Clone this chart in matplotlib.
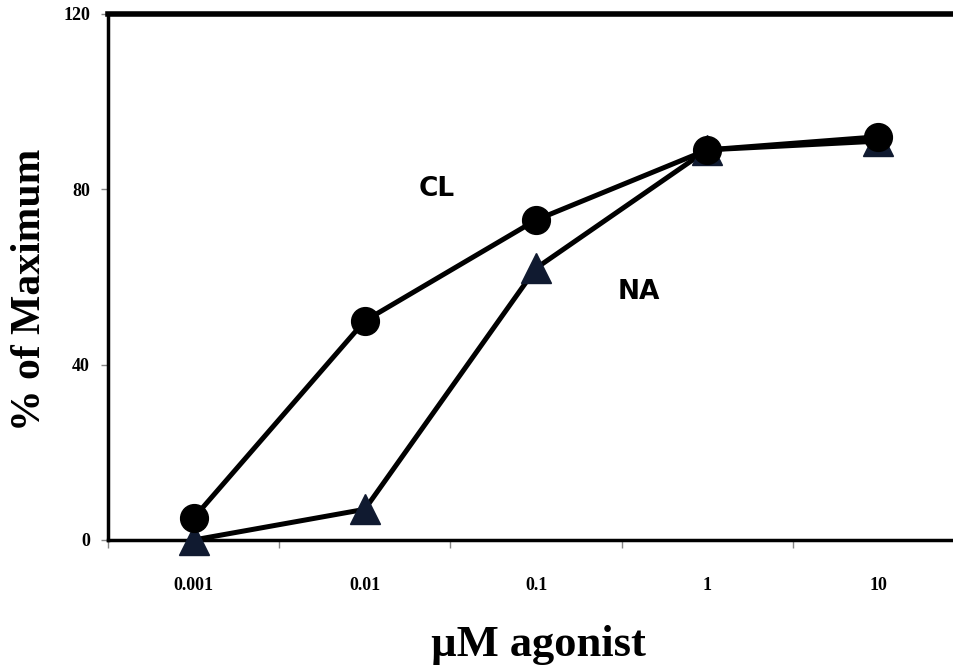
import matplotlib
matplotlib.use('Agg')
import matplotlib.pyplot as plt
import numpy as np

concs = ['0.001', '0.01', '0.1', '1', '10']
cl_values = [5, 50, 73, 89, 92]
na_values = [0, 7, 62, 89, 91]
y_ticks = [0, 40, 80, 120]

fig = plt.figure(figsize=(9.54, 6.70), dpi=100)
ax = fig.add_axes([108 / 954, 1 - 540 / 670, (964 - 108) / 954, 526 / 670])

x = np.arange(len(concs))
ax.plot(x, na_values, color='black', lw=3.6, marker='^', ms=21,
        mfc='#101a30', mec='#101a30', clip_on=False, zorder=3)
ax.plot(x, cl_values, color='black', lw=3.6, marker='o', ms=20,
        mfc='black', mec='black', clip_on=False, zorder=4)

ax.set_xlim(-0.5, 4.5)
ax.set_ylim(0, 120)
ax.set_yticks(y_ticks)
ax.set_xticks(x)
ax.set_xticklabels(concs)
ax.set_xticks(np.arange(-0.5, 4.6, 1), minor=True)
ax.tick_params(axis='x', which='major', length=0, pad=27)
ax.tick_params(axis='x', which='minor', length=6, width=1, color='#888888')
ax.tick_params(axis='y', length=5, width=1, color='#888888', pad=8)
for lab in ax.get_xticklabels() + ax.get_yticklabels():
    lab.set_fontfamily('Liberation Serif')
    lab.set_fontweight('heavy')
    lab.set_fontsize(13)
    lab.set_stretch('condensed')

ax.spines['right'].set_visible(False)
ax.spines['top'].set_linewidth(4)
ax.spines['left'].set_linewidth(2.5)
ax.spines['bottom'].set_linewidth(2.5)

ax.text(1.42, 80, 'CL', fontsize=19, fontweight='bold', family='DejaVu Sans',
        ha='center', va='center')
ax.text(2.6, 56.5, 'NA', fontsize=19, fontweight='bold', family='DejaVu Sans',
        ha='center', va='center')

fig.text(30 / 954, 1 - 290 / 670, '% of Maximum', rotation=90, fontsize=30,
         fontweight='bold', family='Liberation Serif', ha='center', va='center')
fig.text(538 / 954, 1 - 645 / 670, '\u00b5M agonist', fontsize=32,
         fontweight='bold', family='Liberation Serif', ha='center', va='center')

plt.savefig('out.png', dpi=100)
